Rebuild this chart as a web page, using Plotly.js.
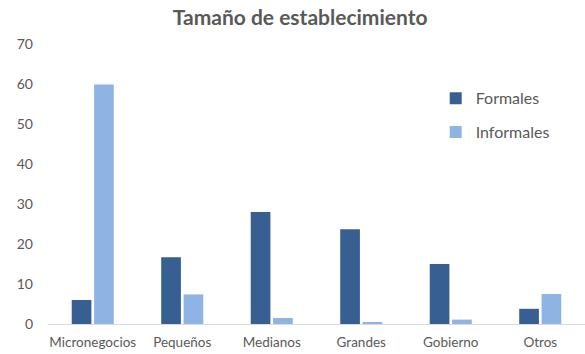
<!DOCTYPE html>
<html><head><meta charset="utf-8">
<script src="https://cdn.plot.ly/plotly-3.0.1.min.js"></script>
<style>html,body{margin:0;padding:0;background:#fff}#chart{width:585px;height:354px}</style>
</head><body><div id="chart"></div>
<script>
const categories = ["Micronegocios", "Pequeños", "Medianos", "Grandes", "Gobierno", "Otros"];
const formales = [6.0, 16.7, 28.0, 23.7, 15.0, 3.8];
const informales = [59.9, 7.4, 1.5, 0.5, 1.1, 7.5];
const yTicks = [0, 10, 20, 30, 40, 50, 60, 70];

const textColor = "#595959";
const font = "Lato, 'Open Sans', sans-serif";

const data = [
  {type: "bar", name: "Formales", x: categories, y: formales, marker: {color: "#375f92"}, legendgroup: "a", hoverinfo: "x+y"},
  {type: "bar", name: "Informales", x: categories, y: informales, marker: {color: "#8eb4e3"}, legendgroup: "b", hoverinfo: "x+y"}
];
const layout = {
  width: 585, height: 354,
  margin: {l: 48, r: 0, t: 44, b: 30},
  paper_bgcolor: "#fff", plot_bgcolor: "#fff",
  font: {family: font, color: textColor, size: 13},
  title: {text: "<b>Tamaño de establecimiento</b>", font: {family: font, size: 21, color: textColor}, x: 0.513, xanchor: "center", y: 0.95, yanchor: "middle", xref: "container", yref: "container"},
  barmode: "group", bargap: 0.5, bargroupgap: 0.12,
  xaxis: {type: "category", showgrid: false, zeroline: false, showline: true, linecolor: "#d9d9d9", linewidth: 1, ticks: "", ticklabelstandoff: 6, tickfont: {size: 13.5, color: textColor}, fixedrange: true},
  yaxis: {range: [0, 70], tickvals: yTicks, showgrid: false, zeroline: false, showline: false, ticks: "", ticklabelstandoff: 14, tickfont: {size: 14, color: textColor}, fixedrange: true},
  showlegend: true,
  legend: {x: 0.722, y: 0.867, xanchor: "left", yanchor: "top", traceorder: "grouped", tracegroupgap: 10, font: {size: 16, color: textColor}, bgcolor: "rgba(0,0,0,0)", itemwidth: 30}
};
Plotly.newPlot("chart", data, layout, {displayModeBar: false, staticPlot: true});
</script></body></html>
